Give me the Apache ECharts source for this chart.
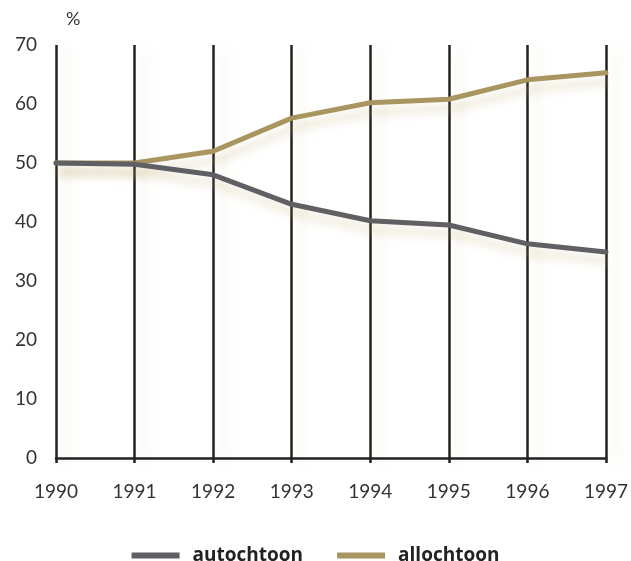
<!DOCTYPE html>
<html>
<head>
<meta charset="utf-8">
<script src="https://cdn.jsdelivr.net/npm/echarts@6/dist/echarts.min.js"></script>
<style>
  html, body { margin: 0; padding: 0; background: #fff; }
  #chart { width: 631px; height: 561px; }
</style>
</head>
<body>
<div id="chart"></div>
<script>
// Share of pupils (%) by origin, 1990–1997
const years = ['1990', '1991', '1992', '1993', '1994', '1995', '1996', '1997'];
const autochtoon = [50, 49.8, 48, 43, 40.2, 39.5, 36.3, 34.9];
const allochtoon = [50, 50, 52, 57.6, 60.2, 60.8, 64.1, 65.3];
const yTicks = [0, 10, 20, 30, 40, 50, 60, 70];

const FONT = 'Lato, "Open Sans", sans-serif';
const LEGEND_FONT = '"Open Sans", Lato, sans-serif';
const glow = {
  shadowColor: 'rgba(190, 170, 110, 0.35)',
  shadowBlur: 10,
  shadowOffsetX: 4,
  shadowOffsetY: 9
};

const chart = echarts.init(document.getElementById('chart'));
chart.setOption({
  animation: false,
  backgroundColor: '#ffffff',
  grid: { left: 56, right: 23, top: 45, bottom: 103, containLabel: false },
  legend: {
    top: 541,
    left: 'center',
    icon: 'rect',
    itemWidth: 48,
    itemHeight: 6,
    itemGap: 34,
    textStyle: {
      fontFamily: LEGEND_FONT,
      fontSize: 19,
      fontWeight: 'bold',
      color: '#222',
      padding: [0, 0, 0, 8]
    },
    data: ['autochtoon', 'allochtoon']
  },
  xAxis: {
    type: 'category',
    data: years,
    boundaryGap: false,
    axisLine: { show: true, lineStyle: { color: '#222', width: 2.5 } },
    axisTick: { show: true, length: 5, lineStyle: { color: '#222', width: 2.5 } },
    axisLabel: { margin: 24, fontFamily: FONT, fontSize: 19, color: '#333' },
    splitLine: {
      show: true,
      lineStyle: {
        color: '#222',
        width: 2.5,
        shadowColor: 'rgba(200, 180, 120, 0.25)',
        shadowBlur: 12,
        shadowOffsetX: 10,
        shadowOffsetY: 4
      }
    }
  },
  yAxis: {
    type: 'value',
    min: yTicks[0],
    max: yTicks[yTicks.length - 1],
    interval: 10,
    name: '%',
    nameLocation: 'end',
    nameGap: 17,
    nameTextStyle: { fontFamily: FONT, fontSize: 18, color: '#333', align: 'left', padding: [0, 0, 0, 10] },
    axisLine: { show: false },
    axisTick: { show: false },
    axisLabel: { margin: 19, fontFamily: FONT, fontSize: 19, color: '#333' },
    splitLine: { show: false }
  },
  series: [
    {
      name: 'allochtoon',
      type: 'line',
      data: allochtoon,
      symbol: 'none',
      z: 3,
      color: '#a8955f',
      lineStyle: Object.assign({ color: '#a8955f', width: 5, cap: 'round', join: 'round' }, glow)
    },
    {
      name: 'autochtoon',
      type: 'line',
      data: autochtoon,
      symbol: 'none',
      z: 4,
      color: '#5f5f64',
      lineStyle: Object.assign({ color: '#5f5f64', width: 5, cap: 'round', join: 'round' }, glow)
    }
  ]
});
</script>
</body>
</html>
